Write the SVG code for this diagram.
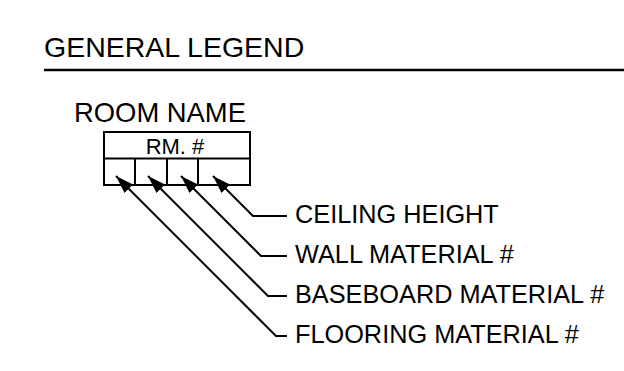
<svg xmlns="http://www.w3.org/2000/svg" width="624" height="371" viewBox="0 0 624 371">
<style>
text{font-family:"Liberation Sans",Arial,sans-serif;fill:#000}
.ln{stroke:#000;stroke-width:2;fill:none}
.lbl{font-size:25.3px}
</style>
<defs>
<marker id="ah" markerUnits="userSpaceOnUse" markerWidth="20" markerHeight="14" refX="18" refY="6" orient="auto">
<path d="M0,0 L18,6 L0,12 Z" fill="#000"/>
</marker>
</defs>
<rect width="624" height="371" fill="#fff"/>
<g id="title">
<text x="44" y="57" font-size="28.5">GENERAL LEGEND</text>
<line x1="44" y1="70" x2="624" y2="70" stroke="#000" stroke-width="2.5"/>
</g>
<g id="room-tag">
<text x="74" y="122" font-size="27.4">ROOM NAME</text>
<rect x="104" y="132" width="146" height="53" class="ln"/>
<line x1="104" y1="158.5" x2="250" y2="158.5" class="ln"/>
<line x1="135" y1="158.5" x2="135" y2="185" class="ln"/>
<line x1="167" y1="158.5" x2="167" y2="185" class="ln"/>
<line x1="198" y1="158.5" x2="198" y2="185" class="ln"/>
<text x="175" y="154" font-size="22" text-anchor="middle">RM. #</text>
</g>
<g id="connectors">
<polyline class="ln" points="287,216 253,216 213,176" marker-end="url(#ah)"/>
<polyline class="ln" points="287,256 261,256 181,176" marker-end="url(#ah)"/>
<polyline class="ln" points="287,296 268,296 148,176" marker-end="url(#ah)"/>
<polyline class="ln" points="287,336 276,336 116,176" marker-end="url(#ah)"/>
</g>
<g id="label-ceiling"><text class="lbl" x="295" y="223">CEILING HEIGHT</text></g>
<g id="label-wall"><text class="lbl" x="295" y="263">WALL MATERIAL #</text></g>
<g id="label-baseboard"><text class="lbl" x="295" y="303">BASEBOARD MATERIAL #</text></g>
<g id="label-flooring"><text class="lbl" x="295" y="343">FLOORING MATERIAL #</text></g>
</svg>
